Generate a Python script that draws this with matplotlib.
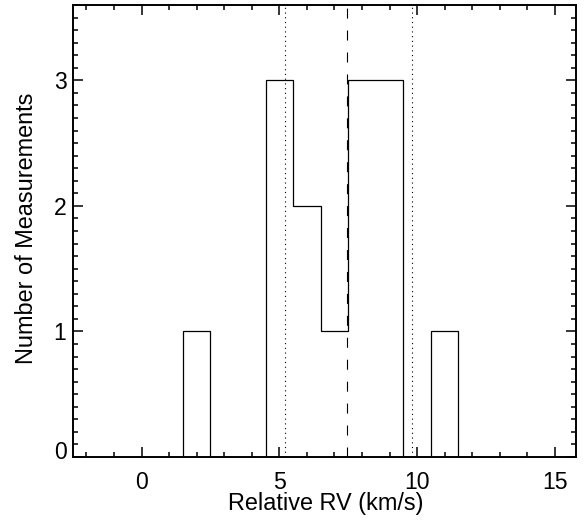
import matplotlib
matplotlib.use('Agg')
import matplotlib.pyplot as plt
import matplotlib.transforms as mtransforms
import numpy as np

plt.rcParams['font.family'] = ['Liberation Sans', 'DejaVu Sans']
plt.rcParams['lines.scale_dashes'] = False

# histogram: 1 km/s bins
bin_edges = np.arange(-2.5, 16.0, 1.0)
counts = [0, 0, 0, 0, 1, 0, 0, 3, 2, 1, 3, 3, 0, 1, 0, 0, 0, 0]

mean_rv = 7.5              # dashed line
sigma_lines = [5.2, 9.8]   # dotted lines

x_ticks = [0, 5, 10, 15]
y_ticks = [0, 1, 2, 3]

fig = plt.figure(figsize=(5.84, 5.23), dpi=100)
ax = fig.add_axes([72.7/584, 1-457/523, (575.5-72.7)/584, (457-5)/523])

ax.stairs(counts, bin_edges, baseline=0, color='black', lw=0.9)
ax.axvline(mean_rv-0.03, color='black', lw=0.8, linestyle=(0, (7.2, 8.6)))
for xv in sigma_lines:
    ax.axvline(xv, color='black', lw=0.8, linestyle=(0, (0.8, 2.6)))

ax.set_xlim(-2.5, 15.75)
ax.set_ylim(0, 3.6)
ax.set_xticks(x_ticks)
ax.set_xticks(np.arange(-2, 16, 1), minor=True)
ax.set_yticks(y_ticks)
ax.set_yticks(np.arange(0, 3.61, 0.1), minor=True)

for s in ax.spines.values():
    s.set_linewidth(1.4)
ax.tick_params(which='both', direction='in', top=True, right=True, width=1.1, labelsize=16.6)
ax.tick_params(which='major', length=7.2)
ax.tick_params(which='minor', length=3.4)
ax.tick_params(axis='x', pad=10.2)
ax.tick_params(axis='y', pad=4.5)

# IDL puts the zero label a little higher
lab0 = ax.yaxis.get_major_ticks()[0].label1
lab0.set_transform(lab0.get_transform() + mtransforms.ScaledTranslation(0, 7/100, fig.dpi_scale_trans))

fig.text(326/584, 1-510/523, 'Relative RV (km/s)', fontsize=16.9, ha='center', va='baseline')
fig.text(33/584, 1-228/523, 'Number of Measurements', fontsize=16.9, rotation=90,
         rotation_mode='anchor', ha='center', va='baseline')

fig.savefig('out.png', dpi=100)
